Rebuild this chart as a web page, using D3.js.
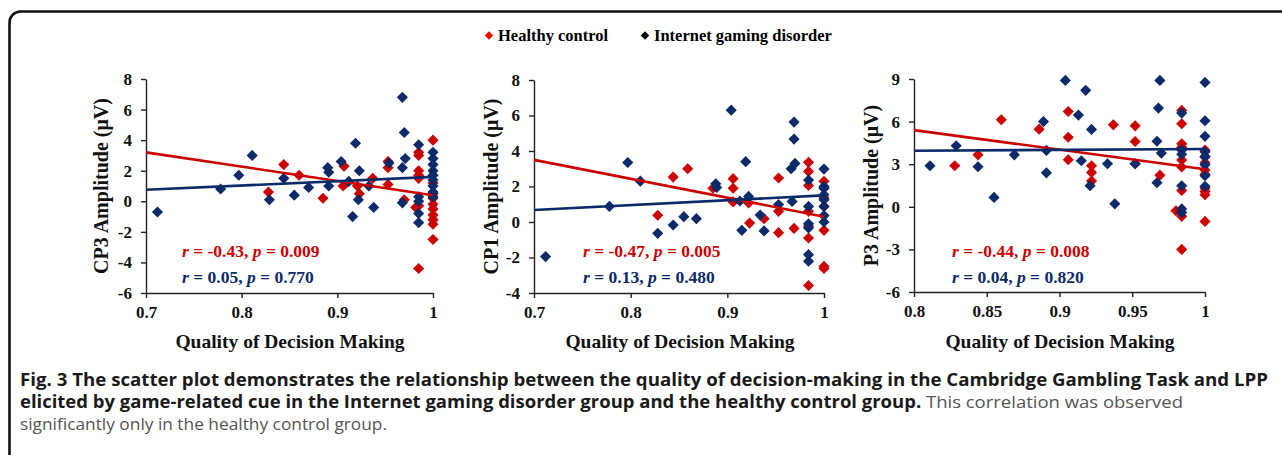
<!DOCTYPE html>
<html>
<head>
<meta charset="utf-8">
<script src="https://cdn.jsdelivr.net/npm/d3@7"></script>
<style>
  body { margin: 0; background: #fff; }
  svg { display: block; }
</style>
</head>
<body>
<div id="my_dataviz"></div>
<script>
// data: [quality of decision making, amplitude]
var cp3HC = [[0.828,0.6],[0.844,2.4],[0.860,1.7],[0.885,0.2],[0.907,2.3],[0.906,1.0],[0.921,1.0],[0.923,0.5],
  [0.937,1.5],[0.953,2.6],[0.953,2.2],[0.953,1.1],[0.970,0.1],[0.982,-0.4],[0.985,3.2],[0.985,3.0],[0.985,2.0],
  [0.985,1.7],[0.985,1.5],[0.985,-0.3],[0.985,-4.4],[1,4.0],[1,1.2],[1,0.5],[1,0.2],[1,-0.2],[1,-0.5],[1,-0.9],
  [1,-1.2],[1,-1.5],[1,-2.5]];
var cp3IGD = [[0.712,-0.7],[0.778,0.8],[0.797,1.7],[0.811,3.0],[0.829,0.1],[0.844,1.5],[0.855,0.4],[0.870,0.9],
  [0.890,2.2],[0.891,1.9],[0.891,1.0],[0.904,2.6],[0.912,1.3],[0.916,-1.0],[0.919,3.8],[0.923,2.0],[0.922,0.1],
  [0.933,1.0],[0.938,-0.4],[0.954,2.5],[0.968,6.8],[0.970,4.5],[0.971,2.8],[0.968,2.2],[0.968,-0.1],
  [0.985,3.7],[0.985,0.3],[0.985,0.0],[0.985,-0.8],[0.985,-1.4],
  [1,3.2],[1,2.8],[1,2.4],[1,2.0],[1,1.7],[1,1.4],[1,1.0],[1,0.6],[1,0.3]];

var cp1HC = [[0.828,0.38],[0.844,2.53],[0.859,3.0],[0.885,1.9],[0.906,2.44],[0.906,1.9],[0.906,1.13],[0.922,1.07],
  [0.923,-0.06],[0.938,0.19],[0.953,2.48],[0.953,0.6],[0.953,-0.6],[0.969,-0.36],[0.984,3.36],[0.984,2.85],
  [0.984,2.06],[0.984,0.6],[0.984,-0.24],[0.984,-0.9],[0.984,-3.58],[1,2.29],[1,1.9],[1,1.35],[1,0.88],
  [1,-0.47],[1,-2.5],[1,-2.62]];
var cp1IGD = [[0.712,-1.95],[0.778,0.88],[0.797,3.35],[0.810,2.3],[0.828,-0.64],[0.844,-0.17],[0.855,0.3],
  [0.868,0.19],[0.888,2.15],[0.889,1.95],[0.904,6.3],[0.913,1.18],[0.915,-0.47],[0.919,3.4],[0.922,1.44],
  [0.934,0.39],[0.938,-0.5],[0.953,0.98],[0.967,1.16],[0.966,3.0],[0.969,4.67],[0.969,5.63],[0.970,3.3],
  [0.984,2.36],[0.984,0.88],[0.984,-0.1],[0.984,-0.34],[0.984,-1.84],[0.984,-2.21],
  [1,2.98],[1,2.0],[1,1.9],[1,1.54],[1,1.26],[1,0.88],[1,0.36],[1,0.0]];

var p3HC = [[0.828,2.89],[0.844,3.66],[0.860,6.13],[0.886,5.47],[0.906,6.71],[0.906,4.9],[0.906,3.31],[0.922,2.89],
  [0.922,2.42],[0.922,1.81],[0.937,5.77],[0.952,5.7],[0.952,4.6],[0.952,3.03],[0.969,2.23],[0.980,-0.28],
  [0.984,6.79],[0.984,5.85],[0.984,4.44],[0.984,4.2],[0.984,3.3],[0.984,2.8],[0.984,1.15],[0.984,-0.67],
  [0.984,-3.0],[1,4.0],[1,3.5],[1,3.1],[1,2.6],[1,2.3],[1,1.3],[1,1.08],[1,0.85],[1,-1.03]];
var p3IGD = [[0.811,2.89],[0.829,4.3],[0.844,2.82],[0.855,0.66],[0.869,3.66],[0.889,6.0],[0.891,2.39],[0.891,3.97],
  [0.904,8.9],[0.913,6.46],[0.915,3.24],[0.918,8.2],[0.922,5.45],[0.921,1.48],[0.933,3.03],[0.938,0.21],
  [0.952,3.03],[0.967,4.62],[0.968,6.95],[0.969,8.9],[0.970,3.78],[0.967,1.69],[0.984,6.6],[0.984,4.0],
  [0.984,3.7],[0.984,1.48],[0.984,-0.15],[0.984,-0.4],[1,8.76],[1,6.06],[1,4.96],[1,3.87],[1,3.55],[1,2.96],
  [1,2.19],[1,1.44]];

// fitted lines as drawn (end points)
var cp3FitHC = [[0.7,3.2],[1,0.4]],   cp3FitIGD = [[0.7,0.75],[1,1.6]];
var cp1FitHC = [[0.7,3.5],[1,0.3]],   cp1FitIGD = [[0.7,0.68],[1,1.5]];
var p3FitHC  = [[0.8,5.4],[1,2.65]],  p3FitIGD  = [[0.8,3.95],[1,4.07]];

// stats
var statsHC  = [["-0.43","0.009"],["-0.47","0.005"],["-0.44","0.008"]];
var statsIGD = [["0.05","0.770"],["0.13","0.480"],["0.04","0.820"]];

// axes
var yTitles = ["CP3 Amplitude (\u03bcV)", "CP1 Amplitude (\u03bcV)", "P3 Amplitude (\u03bcV)"];
var xTicks12 = [0.7, 0.8, 0.9, 1];
var xTicks3 = [0.8, 0.85, 0.9, 0.95, 1];
var yTicks1 = [-6, -4, -2, 0, 2, 4, 6, 8];
var yTicks2 = [-4, -2, 0, 2, 4, 6, 8];
var yTicks3 = [-6, -3, 0, 3, 6, 9];
var legendLabels = ["Healthy control", "Internet gaming disorder"];

var red = "#cc0000", navy = "#0a2a6a";

var svg = d3.select("#my_dataviz")
  .append("svg")
    .attr("width", 1282)
    .attr("height", 455);

// frame
svg.append("rect")
  .attr("x", 9.5).attr("y", 11.5)
  .attr("width", 1300).attr("height", 480)
  .attr("rx", 11)
  .attr("fill", "none")
  .attr("stroke", "#111")
  .attr("stroke-width", 2.6);

// legend
var leg = svg.append("g").attr("font-family", "'Liberation Serif', 'Times New Roman', serif")
  .attr("font-weight", "bold").attr("font-size", 16.5);
[[489, "#ff0000"], [645, "#000"]].forEach(function(d, i) {
  leg.append("path")
    .attr("d", d3.symbol(d3.symbolSquare, 36)())
    .attr("transform", "translate(" + d[0] + ",35.5) rotate(45)")
    .attr("fill", d[1]);
  leg.append("text").attr("x", d[0] + 9).attr("y", 41).text(legendLabels[i]);
});

var panels = [
  {l: 146, r: 433, t: 79, b: 293, xd: [0.7, 1], yd: [-6, 8], xt: xTicks12, yt: yTicks1,
   hc: cp3HC, igd: cp3IGD, fhc: cp3FitHC, figd: cp3FitIGD, tx: 182, ytx: 108, xtx: 290},
  {l: 534, r: 824, t: 80, b: 293, xd: [0.7, 1], yd: [-4, 8], xt: xTicks12, yt: yTicks2,
   hc: cp1HC, igd: cp1IGD, fhc: cp1FitHC, figd: cp1FitIGD, tx: 583, ytx: 498, xtx: 680},
  {l: 914, r: 1205, t: 79, b: 292, xd: [0.8, 1], yd: [-6, 9], xt: xTicks3, yt: yTicks3,
   hc: p3HC, igd: p3IGD, fhc: p3FitHC, figd: p3FitIGD, tx: 952, ytx: 878, xtx: 1060}
];

var fmt = function(d) { return String(+d.toFixed(2)); };
var diamond = d3.symbol(d3.symbolSquare, 62);

panels.forEach(function(p, i) {
  var g = svg.append("g").attr("font-family", "'Liberation Serif', 'Times New Roman', serif");
  var x = d3.scaleLinear().domain(p.xd).range([p.l, p.r]);
  var y = d3.scaleLinear().domain(p.yd).range([p.b, p.t]);

  var gx = g.append("g").attr("transform", "translate(0," + p.b + ")")
    .call(d3.axisBottom(x).tickValues(p.xt).tickFormat(fmt).tickSize(5).tickPadding(8).tickSizeOuter(0));
  var gy = g.append("g").attr("transform", "translate(" + p.l + ",0)")
    .call(d3.axisLeft(y).tickValues(p.yt).tickFormat(String).tickSize(5).tickPadding(9).tickSizeOuter(0));
  [gx, gy].forEach(function(a) {
    a.selectAll("path, line").attr("stroke", "#222").attr("stroke-width", 1.4);
    a.selectAll("text").attr("font-family", "'Liberation Serif', serif").attr("font-weight", "bold")
      .attr("font-size", 17).attr("fill", "#111");
  });

  // points: healthy control first, IGD on top
  g.selectAll(".hc").data(p.hc).enter().append("path")
    .attr("d", diamond)
    .attr("transform", function(d) { return "translate(" + x(d[0]) + "," + y(d[1]) + ") rotate(45)"; })
    .attr("fill", red);
  g.selectAll(".igd").data(p.igd).enter().append("path")
    .attr("d", diamond)
    .attr("transform", function(d) { return "translate(" + x(d[0]) + "," + y(d[1]) + ") rotate(45)"; })
    .attr("fill", navy);

  var line = d3.line().x(function(d) { return x(d[0]); }).y(function(d) { return y(d[1]); });
  g.append("path").datum(p.fhc).attr("d", line).attr("stroke", red).attr("stroke-width", 2.6).attr("fill", "none");
  g.append("path").datum(p.figd).attr("d", line).attr("stroke", navy).attr("stroke-width", 2.6).attr("fill", "none");

  // stats text
  [[statsHC[i], red, 257], [statsIGD[i], navy, 283]].forEach(function(s) {
    var t = g.append("text").attr("x", p.tx).attr("y", s[2]).attr("fill", s[1])
      .attr("font-weight", "bold").attr("font-size", 17.5);
    t.append("tspan").attr("font-style", "italic").text("r");
    t.append("tspan").text(" = " + s[0][0] + ", ");
    t.append("tspan").attr("font-style", "italic").text("p");
    t.append("tspan").text(" = " + s[0][1]);
  });

  // axis titles
  g.append("text")
    .attr("x", p.xtx).attr("y", 348)
    .attr("text-anchor", "middle").attr("font-weight", "bold").attr("font-size", 19.5)
    .attr("fill", "#111")
    .text("Quality of Decision Making");
  g.append("text")
    .attr("transform", "translate(" + p.ytx + "," + ((p.t + p.b) / 2) + ") rotate(-90)")
    .attr("text-anchor", "middle").attr("font-weight", "bold").attr("font-size", 20)
    .attr("fill", "#111")
    .text(yTitles[i]);
});

// caption
var cap = svg.append("g").attr("font-family", "'Open Sans', 'Noto Sans', sans-serif").attr("font-size", 17);
cap.append("text").attr("x", 20).attr("y", 386).attr("font-weight", "bold").attr("fill", "#1a1a1a")
  .attr("textLength", 1248).attr("lengthAdjust", "spacingAndGlyphs")
  .text("Fig. 3 The scatter plot demonstrates the relationship between the quality of decision-making in the Cambridge Gambling Task and LPP");
var l2 = cap.append("text").attr("x", 20).attr("y", 408)
  .attr("textLength", 1163).attr("lengthAdjust", "spacingAndGlyphs");
l2.append("tspan").attr("font-weight", "bold").attr("fill", "#1a1a1a")
  .text("elicited by game-related cue in the Internet gaming disorder group and the healthy control group.");
l2.append("tspan").attr("fill", "#555").text(" This correlation was observed");
cap.append("text").attr("x", 20).attr("y", 430).attr("fill", "#555")
  .attr("textLength", 367).attr("lengthAdjust", "spacingAndGlyphs")
  .text("significantly only in the healthy control group.");
</script>
</body>
</html>
